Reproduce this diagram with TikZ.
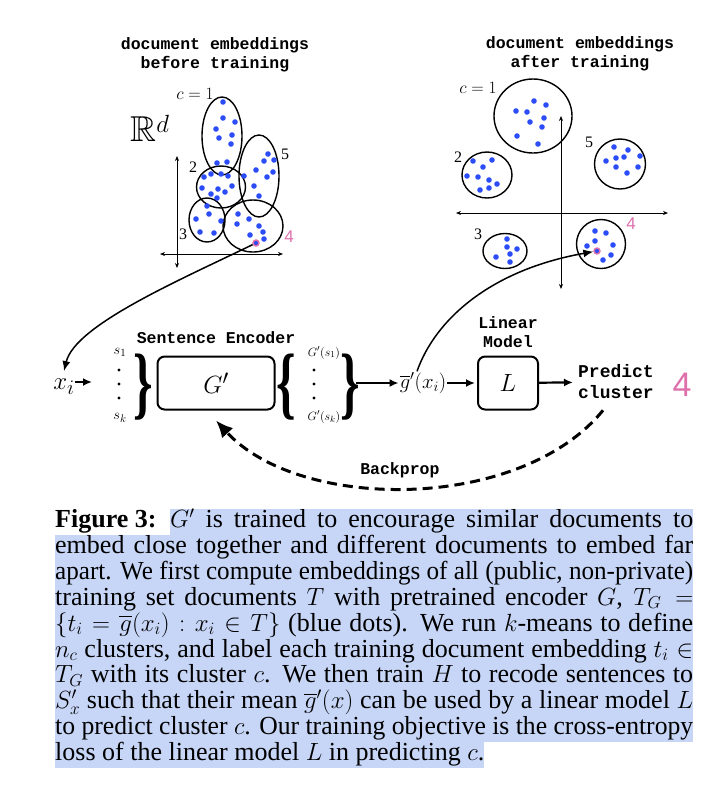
\documentclass[tikz,border=0pt]{standalone}
\usepackage{fontspec}
\usepackage{amssymb}
\usepackage{graphicx}
\setmainfont{Liberation Serif}
\setsansfont{Liberation Sans}
\setmonofont{Liberation Mono}
\usetikzlibrary{arrows.meta}

\definecolor{dotblue}{RGB}{43,76,246}
\definecolor{pinkfour}{RGB}{222,112,172}
\definecolor{hilite}{RGB}{199,214,247}

\newcommand{\fs}[1]{\fontsize{#1}{#1}\selectfont}
\newcommand{\bigcurly}[1]{\scalebox{0.62}[1]{\fs{80}\bfseries#1}}
% justify a caption line to #1, squeezing the glyphs if it is too long
\newsavebox\capbox
\newcommand{\capfit}[2]{\sbox\capbox{#2}%
	\ifdim\wd\capbox>#1\relax\scalebox{\fpeval{#1/\the\wd\capbox}}[1]{\usebox\capbox}%
	\else\makebox[#1][s]{#2}\fi}

\tikzset{
	header/.style={
		% monospace heading text
		font=\ttfamily\bfseries\fontsize{16.5}{18.5}\selectfont,
		align=center,inner sep=0pt,
	}}
\tikzset{
	cluster/.style={
		% outline round a group of points
		draw=black,line width=1.4pt,
	}}
\tikzset{
	axisline/.style={
		{Stealth[length=5pt,width=4pt]}-{Stealth[length=5pt,width=4pt]},
		line width=0.7pt,
	}}
\tikzset{
	pinkdot/.style={
		circle,inner sep=0pt,minimum size=6pt,
		fill=dotblue,draw=pinkfour,line width=1.4pt,
	}}
\tikzset{
	term/.style={
		% The shape:
		shape=rectangle,rounded corners=2.5mm,
		% The border:
		line width=2pt,draw=black,
		inner sep=0pt,minimum height=53pt,
	}}
\tikzset{
	curly/.style={inner sep=0pt},
	flow/.style={-{Latex[length=9pt,width=8pt]},line width=2.2pt},
	pick/.style={-{Latex[length=10pt,width=8pt]},line width=1.5pt},
	back/.style={-{Latex[length=17pt,width=15pt]},line width=3pt,
		dash pattern=on 10pt off 6pt},
	clabel/.style={font=\fs{16},inner sep=0pt},
	capline/.style={anchor=west,inner xsep=0pt,inner ysep=1.45pt,
		text height=17pt,text depth=6pt,font=\fs{26}},
}

\begin{document}
\begin{tikzpicture}[x=1pt,y=-1pt]
\useasboundingbox (0,0) rectangle (728,812);

% ---- embeddings before training
\node[header] (hbefore) at (215,55) {document embeddings\\before training};
\node[font=\fs{36},inner sep=0pt] (rd) at (150,128) {$\mathbb{R}^d$};
\draw[axisline] (160,254) -- (283,254);
\draw[axisline] (177,156) -- (177,268);
\draw[cluster] (222,136) ellipse [x radius=20,y radius=39];
\draw[cluster] (259,176) ellipse [x radius=20,y radius=41];
\draw[cluster] (221,187) ellipse [x radius=24.5,y radius=21];
\draw[cluster] (207,220) ellipse [x radius=18,y radius=22];
\draw[cluster] (253,226) ellipse [x radius=30,y radius=26];
\foreach \x/\y in {223/102,223/118,235/122,216/129,232/135,219/138,231/144,217/163,227/162,
	204/177,211/174,221/174,228/176,202/188,218/189,232/186,211/194,225/192,217/198,
	268/154,264/161,274/160,256/170,273/172,267/177,254/186,259/196,244/176,
	207/206,209/214,196/219,221/221,200/232,214/233,
	238/214,249/219,237/224,259/226,263/232,250/235,264/239}
	\fill[dotblue] (\x,\y) circle (2.8);
\node[pinkdot] (pinkL) at (256,243) {};
\node[clabel] (l1) at (195,94) {$c=1$};
\node[clabel] (l2) at (193,167) {2};
\node[clabel] (l5) at (285,154) {5};
\node[clabel] (l3) at (183,234) {3};
\node[clabel,font=\sffamily\fs{17},text=pinkfour] (l4) at (289,237) {4};

% ---- embeddings after training
\node[header] (hafter) at (580,54) {document embeddings\\after training};
\draw[axisline] (456,213) -- (668,213);
\draw[axisline] (561,116) -- (561,289);
\draw[cluster] (533,116) ellipse [x radius=39,y radius=37];
\draw[cluster] (487,175) ellipse [x radius=25,y radius=23];
\draw[cluster] (620,164) ellipse [x radius=25.5,y radius=25];
\draw[cluster] (505,251) ellipse [x radius=22,y radius=17.5];
\draw[cluster] (601,244) ellipse [x radius=24.5,y radius=24.5];
\foreach \x/\y in {534/101,546/105,516/111,527/112,544/118,530/122,542/127,517/136,538/144,
	473/161,492/160,483/167,467/176,478/177,489/180,497/184,480/190,489/188,
	614/147,628/150,640/156,616/158,624/157,606/161,616/167,638/167,627/173,
	507/239,507/247,517/249,510/254,496/257,510/262,
	595/231,606/233,595/241,613/245,587/246,611/255,603/260}
	\fill[dotblue] (\x,\y) circle (2.8);
\node[pinkdot] (pinkR) at (597,251) {};
\node[clabel] (r1) at (478,88) {$c=1$};
\node[clabel] (r2) at (458,157) {2};
\node[clabel] (r5) at (589,142) {5};
\node[clabel] (r3) at (478,234) {3};
\node[clabel,font=\sffamily\fs{17},text=pinkfour] (r4) at (631,224) {4};

% ---- encoder row
\node[anchor=base,font=\fs{29},inner sep=0pt] (xi) at (64,389) {$x_i$};
\coordinate (sin) at (92,382);
\node[font=\fs{15},inner sep=0pt] (s1) at (120,352) {$s_1$};
\node[font=\fs{15},inner sep=0pt] (sk) at (120,418) {$s_k$};
\foreach \y in {370,384,398} \fill (119,\y) circle (1.7);
\node[curly] (b1) at (143,387) {\bigcurly{\}}};
\node[header] (hsent) at (216,338) {Sentence Encoder};
\node[term,minimum width=117pt,font=\fs{29}] (enc) at (216,383) {$G'$};
\node[curly] (b2) at (286,387) {\bigcurly{\{}};
\node[font=\fs{13},inner sep=0pt] (gs1) at (324,353) {$G'(s_1)$};
\node[font=\fs{13},inner sep=0pt] (gsk) at (324,417) {$G'(s_k)$};
\foreach \y in {370,384,398} \fill (314,\y) circle (1.7);
\node[curly] (b3) at (350,387) {\bigcurly{\}}};
\node[font=\fs{22},inner sep=1pt] (gbar) at (423,383) {$\overline{g}'(x_i)$};
\node[header] (hlin) at (508,332) {Linear\\Model};
\node[term,minimum width=60pt,font=\fs{30}] (lin) at (508,383) {$L$};
\node[header,font=\ttfamily\bfseries\fontsize{18}{21}\selectfont,inner sep=5pt] (pred) at (616,382) {Predict\\cluster};
\node[font=\sffamily\fs{34},text=pinkfour,inner sep=0pt] (p4) at (682,385) {4};

\draw[flow] (xi.east |- sin) -- (sin);
\draw[flow] ([xshift=-4pt]b3.east |- gbar) -- (gbar);
\draw[flow,shorten >=2pt] (gbar) -- (lin);
\draw[flow] (lin) -- (pred);

\draw[pick] (pinkL) .. controls (180,280) and (75,325) .. ([yshift=7pt]xi.north);
\draw[pick] ([xshift=-6pt]gbar.north) .. controls (435,320) and (490,270) .. (pinkR);
\draw[back] ([shift={(-13pt,-6pt)}]pred.south) .. controls (520,512) and (300,512) .. ([yshift=-10pt]enc.south)
	node[midway,above=8pt,xshift=-10pt,header] (bp) {Backprop};

% ---- caption
\node[capline] (fig) at (55,522) {\textbf{Figure 3:}};
\node[capline,fill=hilite] (c1) at (170,522) {\capfit{523pt}{$G'$ is trained to encourage similar documents to}};
\node[capline,fill=hilite] (c2) at (55,547.9) {\capfit{638pt}{embed close together and different documents to embed far}};
\node[capline,fill=hilite] (c3) at (55,573.8) {\capfit{638pt}{apart. We first compute embeddings of all (public, non-private)}};
\node[capline,fill=hilite] (c4) at (55,599.7) {\capfit{638pt}{training set documents $T$ with pretrained encoder $G$, $T_G =$}};
\node[capline,fill=hilite] (c5) at (55,625.6) {\capfit{638pt}{$\{t_i = \overline{g}(x_i) : x_i \in T\}$ (blue dots). We run $k$-means to define}};
\node[capline,fill=hilite] (c6) at (55,651.5) {\capfit{638pt}{$n_c$ clusters, and label each training document embedding $t_i \in$}};
\node[capline,fill=hilite] (c7) at (55,677.4) {\capfit{638pt}{$T_G$ with its cluster $c$. We then train $H$ to recode sentences to}};
\node[capline,fill=hilite] (c8) at (55,703.3) {\capfit{638pt}{$S'_x$ such that their mean $\overline{g}'(x)$ can be used by a linear model $L$}};
\node[capline,fill=hilite] (c9) at (55,729.2) {\capfit{638pt}{to predict cluster $c$. Our training objective is the cross-entropy}};
\node[capline,fill=hilite] (c10) at (55,755.1) {loss of the linear model $L$ in predicting $c$.};
\end{tikzpicture}
\end{document}
